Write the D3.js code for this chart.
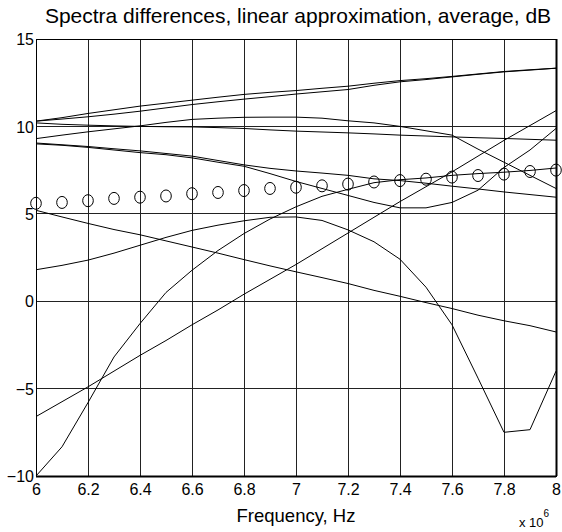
<!DOCTYPE html>
<html>
<head>
<meta charset="utf-8">
<script src="https://cdn.jsdelivr.net/npm/d3@7"></script>
<style>
  body { margin: 0; background: #fff; }
  text { font-family: "Liberation Sans", Arial, sans-serif; fill: #000; }
</style>
</head>
<body>
<div id="chart"></div>
<script>
// frequency, MHz (axis shows x 10^6)
const freq = [6.0, 6.1, 6.2, 6.3, 6.4, 6.5, 6.6, 6.7, 6.8, 6.9, 7.0, 7.1, 7.2, 7.3, 7.4, 7.5, 7.6, 7.7, 7.8, 7.9, 8.0];

const lineA = [10.3, 10.5, 10.74, 10.95, 11.16, 11.33, 11.5, 11.67, 11.83, 11.95, 12.05, 12.18, 12.3, 12.47, 12.62, 12.73, 12.86, 13.0, 13.14, 13.24, 13.33];
const lineB = [10.3, 10.42, 10.55, 10.7, 10.87, 11.06, 11.25, 11.41, 11.56, 11.7, 11.85, 11.98, 12.11, 12.35, 12.55, 12.68, 12.83, 12.98, 13.12, 13.22, 13.33];
const lineC = [10.2, 10.12, 10.07, 10.03, 10.0, 9.98, 9.97, 9.93, 9.88, 9.8, 9.73, 9.68, 9.63, 9.57, 9.5, 9.45, 9.4, 9.35, 9.31, 9.26, 9.21];
const lineD = [9.3, 9.5, 9.69, 9.86, 10.03, 10.23, 10.4, 10.47, 10.52, 10.53, 10.53, 10.47, 10.32, 10.2, 10.0, 9.75, 9.5, 8.7, 7.95, 7.2, 6.45];
const lineE = [9.05, 8.95, 8.85, 8.72, 8.6, 8.45, 8.3, 8.05, 7.8, 7.6, 7.45, 7.33, 7.2, 7.0, 6.9, 6.75, 6.58, 6.42, 6.25, 6.1, 5.95];
const lineF = [9.0, 8.92, 8.8, 8.65, 8.5, 8.38, 8.2, 7.95, 7.72, 7.3, 6.85, 6.45, 6.05, 5.65, 5.34, 5.34, 5.65, 6.35, 7.65, 8.65, 9.88];
const lineG = [-6.6, -5.75, -4.9, -4.0, -3.1, -2.25, -1.35, -0.5, 0.4, 1.25, 2.1, 3.0, 3.9, 4.8, 5.7, 6.55, 7.4, 8.3, 9.2, 10.05, 10.9];
const lineH = [5.2, 4.82, 4.45, 4.1, 3.8, 3.45, 3.1, 2.75, 2.38, 2.02, 1.68, 1.35, 1.01, 0.62, 0.28, -0.08, -0.42, -0.8, -1.12, -1.4, -1.76];
const lineI = [1.8, 2.05, 2.35, 2.75, 3.2, 3.65, 4.05, 4.35, 4.6, 4.8, 4.82, 4.62, 4.08, 3.4, 2.4, 0.8, -1.35, -4.4, -7.5, -7.35, -4.0];
const lineJ = [-10.0, -8.33, -5.8, -3.19, -1.28, 0.5, 1.77, 2.9, 3.87, 4.7, 5.4, 6.0, 6.4, 6.78, 6.95, 7.05, 7.2, 7.3, 7.38, 7.48, 7.62];
const average = [5.6, 5.65, 5.75, 5.88, 5.95, 6.02, 6.15, 6.22, 6.33, 6.45, 6.52, 6.6, 6.7, 6.82, 6.9, 6.98, 7.1, 7.19, 7.27, 7.42, 7.5];

const allLines = [lineA, lineB, lineC, lineD, lineE, lineF, lineG, lineH, lineI, lineJ];

const xTicks = [6, 6.2, 6.4, 6.6, 6.8, 7, 7.2, 7.4, 7.6, 7.8, 8];
const yTicks = [-10, -5, 0, 5, 10, 15];

const titleText = "Spectra differences, linear approximation, average, dB";
const xLabelText = "Frequency, Hz";

const W = 562, H = 532;
const margin = {top: 39, right: 6, bottom: 56, left: 36};
const width = W - margin.left - margin.right;
const height = H - margin.top - margin.bottom;

const svg = d3.select("#chart").append("svg")
  .attr("width", W)
  .attr("height", H);

const g = svg.append("g")
  .attr("transform", `translate(${margin.left},${margin.top})`);

const x = d3.scaleLinear().domain([6, 8]).range([0, width]);
const y = d3.scaleLinear().domain([-10, 15]).range([height, 0]);

// grid
g.append("g").selectAll("line").data(xTicks).join("line")
  .attr("x1", d => x(d)).attr("x2", d => x(d))
  .attr("y1", 0).attr("y2", height)
  .attr("stroke", "#222").attr("stroke-width", 1).attr("shape-rendering", "crispEdges");
g.append("g").selectAll("line").data(yTicks).join("line")
  .attr("x1", 0).attr("x2", width)
  .attr("y1", d => y(d)).attr("y2", d => y(d))
  .attr("stroke", "#222").attr("stroke-width", 1).attr("shape-rendering", "crispEdges");

// axes
const xAxis = d3.axisBottom(x).tickValues(xTicks).tickSize(0).tickPadding(8).tickFormat(d3.format("~g"));
const yAxis = d3.axisLeft(y).tickValues(yTicks).tickSize(0).tickPadding(2);

const xg = g.append("g").attr("transform", `translate(0,${height})`).call(xAxis);
const yg = g.append("g").call(yAxis);
[xg, yg].forEach(a => {
  a.select(".domain").remove();
  a.selectAll("text").attr("font-size", 16).attr("font-family", "Liberation Sans, Arial, sans-serif");
});
yg.selectAll("text").attr("dy", "0.35em");

// frame
g.append("rect")
  .attr("x", 0).attr("y", 0).attr("width", width).attr("height", height)
  .attr("fill", "none").attr("stroke", "#000").attr("stroke-width", 1)
  .attr("shape-rendering", "crispEdges");
g.append("line").attr("x1", 0).attr("x2", width).attr("y1", height + 0.5).attr("y2", height + 0.5)
  .attr("stroke", "#000").attr("stroke-width", 2);
g.append("line").attr("x1", width + 0.5).attr("x2", width + 0.5).attr("y1", 0).attr("y2", height)
  .attr("stroke", "#000").attr("stroke-width", 2);

// series
const line = d3.line().x((d, i) => x(freq[i])).y(d => y(d));
g.append("g").selectAll("path").data(allLines).join("path")
  .attr("d", line)
  .attr("fill", "none")
  .attr("stroke", "#000")
  .attr("stroke-width", 1);

g.append("g").selectAll("ellipse").data(average).join("ellipse")
  .attr("cx", (d, i) => x(freq[i]))
  .attr("cy", d => y(d))
  .attr("rx", 5.3).attr("ry", 6)
  .attr("fill", "none")
  .attr("stroke", "#000")
  .attr("stroke-width", 1);

// title and labels
svg.append("text")
  .attr("x", margin.left + width / 2 + 2).attr("y", 23)
  .attr("text-anchor", "middle").attr("font-size", 21)
  .text(titleText);

svg.append("text")
  .attr("x", margin.left + width / 2).attr("y", 522)
  .attr("text-anchor", "middle").attr("font-size", 18.5)
  .text(xLabelText);

const mult = svg.append("text")
  .attr("x", 519).attr("y", 527).attr("font-size", 13);
mult.append("tspan").text("x 10");
mult.append("tspan").attr("dy", -10).attr("font-size", 10).text("6");
</script>
</body>
</html>
